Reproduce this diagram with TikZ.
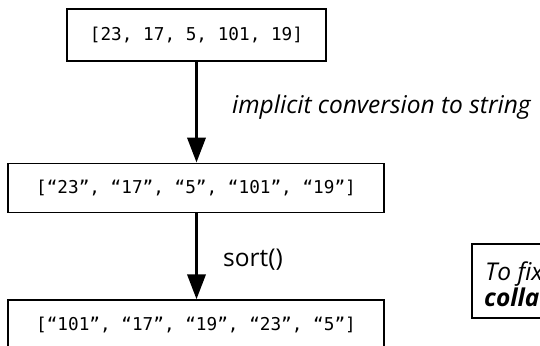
\documentclass[tikz,border=0pt]{standalone}
\usepackage{fontspec}
\setmainfont{Open Sans}
\newfontfamily\codefont{DejaVu Sans Mono}
\usetikzlibrary{arrows.meta}
\begin{document}
\begin{tikzpicture}[x=1pt,y=-1pt,
  codebox/.style={draw=black,line width=1.3pt,inner sep=0pt,font=\codefont\fontsize{17.7}{20}\selectfont},
  flowarrow/.style={line width=3.6pt,-{Triangle[width=18pt,length=25pt]}},
  lbl/.style={inner sep=0pt,font=\fontsize{24.5}{28}\selectfont}]
\useasboundingbox (0,0) rectangle (540,345);
\clip (0,0) rectangle (540,345);
\node[codebox,minimum width=259pt,minimum height=52pt] (a) at (196.5,35) {[23, 17, 5, 101, 19]};
\node[codebox,minimum width=376pt,minimum height=49.5pt] (b) at (196,188) {[“23”, “17”, “5”, “101”, “19”]};
\node[codebox,minimum width=376pt,minimum height=50pt] (c) at (196,325) {[“101”, “17”, “19”, “23”, “5”]};
\draw[flowarrow] (a.south -| 196.5,0) -- (b.north -| 196.5,0);
\draw[flowarrow] (b.south -| 196.5,0) -- (c.north -| 196.5,0);
\node[lbl,anchor=base west] (l1) at (232,113) {\itshape implicit conversion to string};
\node[lbl,anchor=base west] (l2) at (223,266) {sort()};
\draw[line width=1.3pt] (700,244) -- (472,244) -- (472,318) -- (700,318);
\node[lbl,anchor=base west] (t1) at (485,280) {\itshape To fix};
\node[lbl,anchor=base west] (t2) at (484,306.5) {\bfseries\itshape colla};
\end{tikzpicture}
\end{document}
